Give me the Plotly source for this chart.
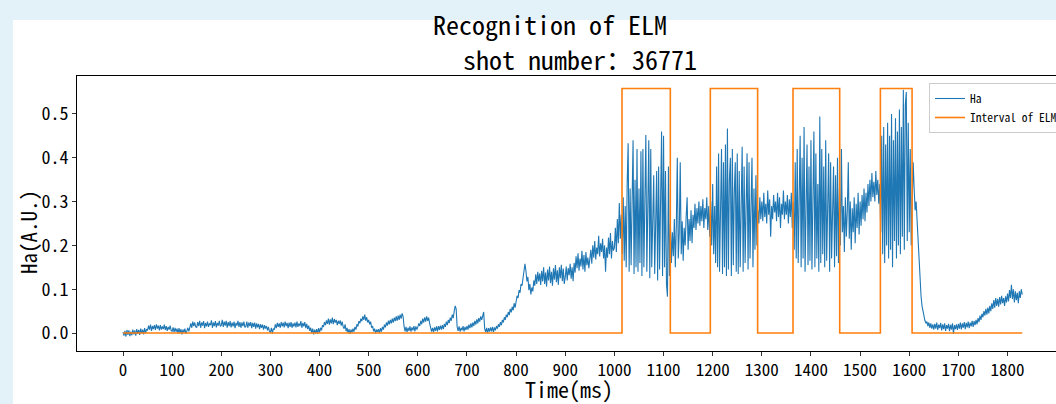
import numpy as np
import plotly.graph_objects as go

# Ha signal, sampled every 2 ms from 0 to 1830 ms, values in 0.001 A.U.
SAMPLE_MS = 2
HA_MILLI = [
    2, -6, 5, -8, 7, -4, 6, -7, 3, -5, 8, -3, 6, -6, 9, -2, 7, -4, 10, -1, 8, -3, 11, 0, 9,
    6, 17, 8, 19, 5, 16, 9, 18, 7, 20, 10, 17, 6, 18, 8, 15, 9, 19, 7, 16, 5, 14, 8, 17, 6,
    4, 13, 2, 12, 3, 10, -1, 11, 0, 9, -3, 8, 1, 10, -2, 7, 12, 4, 18, 22, 12, 26, 16, 24, 14,
    13, 25, 16, 28, 12, 24, 17, 27, 11, 23, 15, 26, 14, 22, 18, 29, 12, 24, 16, 27, 13, 23, 17, 28, 15,
    18, 30, 14, 26, 17, 28, 12, 25, 16, 27, 13, 24, 15, 26, 11, 23, 17, 28, 14, 25, 12, 24, 16, 26, 13,
    15, 26, 12, 24, 16, 25, 11, 23, 14, 24, 10, 22, 13, 21, 9, 20, 12, 19, 8, 18, 10, 16, 6, 14, 4,
    2, 12, -1, 10, 8, 20, 11, 23, 14, 22, 12, 25, 15, 24, 13, 26, 16, 23, 11, 24, 14, 25, 12, 22, 15,
    24, 13, 26, 14, 22, 16, 27, 12, 23, 15, 25, 11, 21, 9, 17, 5, 12, 0, 10, -3, 8, -1, 9, -2, 11,
    1, 12, 6, 18, 14, 25, 18, 29, 21, 33, 19, 31, 22, 35, 20, 32, 24, 30, 18, 28, 21, 29, 17, 26, 15,
    10, 20, 4, 12, 0, 9, -2, 8, 1, 10, 3, 14, 8, 20, 15, 27, 22, 33, 27, 38, 30, 42, 28, 36, 24,
    30, 20, 26, 12, 16, 4, 10, -1, 8, 2, 9, 0, 11, 3, 14, 8, 19, 13, 24, 17, 28, 20, 30, 22, 33,
    24, 35, 27, 38, 28, 40, 30, 42, 33, 45, 38, 15, 4, 14, 2, 12, 5, 15, 3, 13, 6, 16, 4, 15, 8,
    14, 22, 16, 28, 20, 33, 24, 36, 26, 38, 28, 35, 22, 14, 3, 12, 2, 13, 5, 15, 4, 16, 7, 17, 8,
    18, 9, 21, 14, 26, 18, 30, 23, 35, 28, 42, 34, 50, 62, 55, 14, 5, 15, 3, 12, 6, 16, 4, 14, 7,
    16, 8, 19, 11, 22, 13, 24, 16, 28, 19, 31, 22, 34, 26, 38, 30, 42, 48, 10, 2, 12, 0, 11, 3, 13,
    4, 14, 2, 13, 6, 16, 10, 20, 14, 25, 18, 30, 24, 36, 30, 42, 36, 48, 41, 55, 47, 60, 52, 68, 58,
    72, 85, 80, 98, 92, 112, 108, 128, 140, 158, 142, 118, 128, 98, 112, 88, 104, 95, 120, 108, 134, 112, 140, 118, 136,
    110, 142, 118, 150, 112, 138, 106, 145, 120, 152, 114, 140, 108, 148, 122, 155, 116, 143, 110, 150, 125, 156, 118, 147, 112,
    128, 152, 120, 148, 132, 158, 124, 150, 118, 160, 138, 175, 148, 182, 142, 170, 152, 188, 145, 178, 140, 185, 155, 172, 148,
    165, 190, 158, 200, 172, 210, 168, 195, 180, 222, 175, 205, 185, 215, 170, 200, 140, 195, 172, 218, 180, 228, 170, 210, 188,
    195, 240, 185, 260, 205, 297, 215, 270, 180, 310, 165, 290, 150, 340, 433, 140, 330, 155, 300, 440, 135, 350, 150, 420, 140,
    330, 160, 415, 130, 420, 150, 320, 452, 140, 340, 440, 125, 420, 150, 300, 360, 135, 310, 370, 120, 380, 145, 290, 460, 130,
    450, 150, 370, 110, 83, 380, 130, 250, 160, 230, 175, 260, 150, 245, 400, 170, 230, 390, 180, 255, 165, 240, 200, 265, 310,
    190, 260, 210, 280, 205, 270, 240, 295, 235, 285, 250, 300, 245, 290, 255, 305, 240, 285, 260, 310, 235, 290, 220, 300, 200,
    340, 180, 290, 160, 380, 150, 410, 140, 300, 420, 135, 390, 150, 430, 130, 467, 145, 350, 400, 130, 420, 155, 320, 390, 140,
    410, 135, 370, 150, 300, 425, 140, 380, 160, 340, 410, 145, 390, 170, 310, 400, 150, 330, 190, 360, 200, 280, 250, 310, 260,
    300, 255, 320, 265, 295, 250, 325, 270, 305, 220, 290, 260, 315, 275, 300, 255, 320, 265, 310, 240, 295, 270, 325, 260, 300,
    270, 315, 250, 305, 265, 320, 240, 300, 190, 390, 170, 420, 160, 350, 450, 150, 400, 170, 470, 140, 330, 430, 155, 380, 165,
    440, 145, 360, 460, 150, 410, 170, 340, 140, 494, 160, 420, 180, 380, 150, 440, 165, 350, 410, 140, 390, 170, 320, 380, 150,
    360, 175, 400, 160, 330, 200, 420, 230, 290, 185, 310, 220, 280, 390, 215, 300, 190, 285, 230, 310, 205, 295, 240, 320, 225,
    300, 245, 315, 260, 330, 255, 320, 275, 340, 290, 350, 300, 365, 310, 345, 300, 370, 315, 350, 295, 340, 230, 450, 180, 470,
    160, 430, 200, 480, 170, 450, 190, 500, 150, 440, 210, 490, 170, 460, 200, 510, 180, 470, 220, 555, 190, 520, 550, 210, 480,
    230, 420, 200, 300, 390, 330, 280, 300, 250, 200, 150, 115, 85, 62, 48, 38, 28, 22, 26, 16, 24, 12, 22, 10, 20,
    8, 21, 10, 24, 7, 19, 11, 23, 6, 20, 9, 22, 5, 18, 10, 21, 4, 19, 8, 22, -2, 18, 9, 20, 7,
    21, 10, 24, 8, 22, 12, 25, 9, 23, 13, 26, 11, 24, 15, 28, 14, 27, 18, 30, 20, 34, 25, 40, 30, 44,
    36, 50, 40, 55, 42, 58, 45, 62, 50, 68, 55, 75, 58, 80, 62, 78, 60, 82, 65, 85, 68, 80, 62, 84, 70,
    90, 72, 98, 80, 110, 78, 100, 70, 95, 75, 92, 68, 96, 80, 100, 88,
]

# ELM intervals (ms) and the level of the interval marker
ELM_START = [1015.5, 1195.2, 1363.5, 1541.3]
ELM_END = [1113.8, 1291.5, 1458.5, 1605.8]
ELM_LEVEL = 0.558

X_TICKS = list(range(0, 1801, 100))
Y_TICKS = [0.0, 0.1, 0.2, 0.3, 0.4, 0.5]

TITLE_1 = "Recognition of ELM"
TITLE_2 = "shot number：36771"
X_LABEL = "Time(ms)"
Y_LABEL = "Ha(A.U.)"

ha = np.array(HA_MILLI, dtype=float) / 1000.0
t = np.arange(len(ha)) * SAMPLE_MS
t_end = float(t[-1])

# step signal for ELM intervals
ex, ey = [0.0], [0.0]
for s, e in zip(ELM_START, ELM_END):
    ex += [s, s, e, e]
    ey += [0.0, ELM_LEVEL, ELM_LEVEL, 0.0]
ex.append(t_end)
ey.append(0.0)

MONO = "Noto Sans Mono CJK SC, Liberation Mono, monospace"

fig = go.Figure()
fig.add_trace(go.Scatter(x=t, y=ha, mode="lines", name="Ha",
                         line=dict(color="#1f77b4", width=1.1)))
fig.add_trace(go.Scatter(x=ex, y=ey, mode="lines", name="Interval of ELM",
                         line=dict(color="#ff7f0e", width=1.6)))

W, H = 1056, 404
L, R, T, B = 77, 0, 76, 53
pw = W - L - R
ph = H - T - B

def px_x(px):
    return (px - L) / pw

def px_y(py):
    return (H - B - py) / ph

fig.add_shape(type="rect", xref="paper", yref="paper",
              x0=px_x(13), x1=px_x(1060), y0=px_y(410), y1=px_y(20),
              fillcolor="white", line=dict(width=0), layer="below")

fig.add_annotation(text=TITLE_1, xref="paper", yref="paper",
                   x=px_x(550), y=px_y(24), xanchor="center", yanchor="middle",
                   showarrow=False, font=dict(family=MONO, size=26, color="black"))
fig.add_annotation(text=TITLE_2, xref="paper", yref="paper",
                   x=px_x(580), y=px_y(58), xanchor="center", yanchor="middle",
                   showarrow=False, font=dict(family=MONO, size=26, color="black"))
fig.add_annotation(text=X_LABEL, xref="paper", yref="paper",
                   x=px_x(569), y=px_y(388), xanchor="center", yanchor="middle",
                   showarrow=False, font=dict(family=MONO, size=22, color="black"))
fig.add_annotation(text=Y_LABEL, xref="paper", yref="paper", textangle=-90,
                   x=px_x(28), y=px_y(232), xanchor="center", yanchor="middle",
                   showarrow=False, font=dict(family=MONO, size=21, color="black"))

fig.update_layout(
    width=W, height=H,
    margin=dict(l=L, r=R, t=T, b=B, autoexpand=False),
    paper_bgcolor="#e3f1f8",
    plot_bgcolor="white",
    showlegend=True,
    legend=dict(x=px_x(929), y=px_y(83), xanchor="left", yanchor="top",
                bgcolor="white", bordercolor="#cccccc", borderwidth=1,
                font=dict(family=MONO, size=11.5, color="black"),
                itemwidth=30, tracegroupgap=0),
    xaxis=dict(range=[-93.6, -93.6 + pw / 0.4914], automargin=False,
               tickvals=X_TICKS, ticks="outside", ticklen=4, tickcolor="#333",
               showline=True, linecolor="black", linewidth=1, mirror=True,
               showgrid=False, zeroline=False,
               tickfont=dict(family=MONO, size=17, color="black")),
    yaxis=dict(range=[-0.041, 0.5866], automargin=False,
               tickvals=Y_TICKS, tickformat=".1f", ticks="outside", ticklen=4, tickcolor="#333",
               showline=True, linecolor="black", linewidth=1, mirror=False,
               showgrid=False, zeroline=False,
               tickfont=dict(family=MONO, size=18, color="black")),
)

fig.write_html("out.html")
